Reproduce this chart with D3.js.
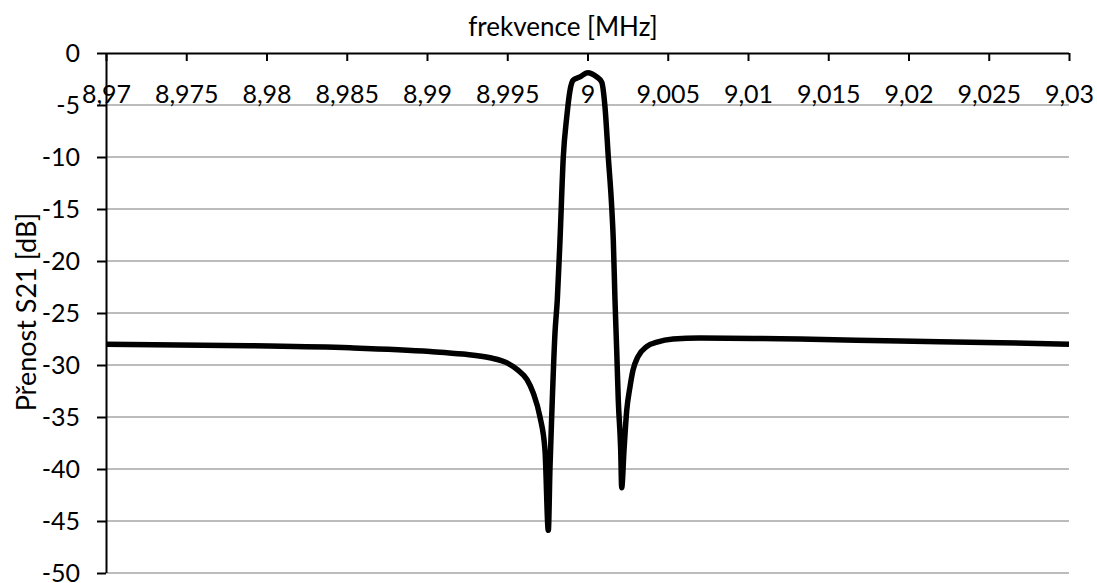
<!DOCTYPE html>
<html>
<head>
<meta charset="utf-8">
<script src="https://cdn.jsdelivr.net/npm/d3@7"></script>
<style>
    body { margin: 0; background: #fff; }
    text { font-family: Lato, "Open Sans", sans-serif; fill: #000; }
</style>
</head>
<body>
<svg id="chart" width="1097" height="583"></svg>
<script>

// frequency in MHz
const freq = [8.97, 8.978972, 8.985202, 8.990187, 8.992243, 8.993925, 8.994984, 8.99567,
    8.996231, 8.996623, 8.99704, 8.997352, 8.997558, 8.997664, 8.997769,
    8.997975, 8.998118, 8.998287, 8.998492, 8.998704, 8.99891, 8.999115, 8.999533,
    9.0, 9.000573, 9.000885, 9.00109, 9.001296, 9.001508, 9.001607, 9.001713,
    9.00182, 9.001919, 9.002069, 9.002131, 9.002274, 9.002442, 9.002648, 9.002835, 9.003146,
    9.003707, 9.00433, 9.005327, 9.007009, 9.01324, 9.01947, 9.025701, 9.03];

// transfer S21 in dB
const s21 = [-28.0, -28.15, -28.35, -28.7, -28.95, -29.3, -29.8, -30.5,
    -31.4, -32.7, -35, -38.2, -45.9, -39.8, -35,
    -26.9, -23.75, -18, -10, -6.2, -3.6, -2.6, -2.3,
    -1.9, -2.3, -2.8, -5.2, -10, -14.8, -18, -23.75,
    -28.6, -33.4, -38.2, -41.8, -38.2, -34.4, -32.1, -30.5, -29.2,
    -28.2, -27.8, -27.5, -27.4, -27.5, -27.7, -27.85, -28.0];

const xTicks = [8.97, 8.975, 8.98, 8.985, 8.99, 8.995, 9, 9.005, 9.01, 9.015, 9.02, 9.025, 9.03];
const yTicks = [0, -5, -10, -15, -20, -25, -30, -35, -40, -45, -50];

const svg = d3.select("#chart");
const plotLeft = 106, plotRight = 1069, plotTop = 53, plotBottom = 573;

const x = d3.scaleLinear().domain([8.97, 9.03]).range([plotLeft, plotRight]);
const y = d3.scaleLinear().domain([0, -50]).range([plotTop, plotBottom]);

// comma as decimal separator, no trailing zeros
const fmt = d => String(+d.toFixed(3)).replace(".", ",");

//gridlines
svg.append("g")
    .selectAll("line")
    .data(yTicks.filter(d => d !== 0))
    .join("line")
    .attr("x1", plotLeft)
    .attr("x2", plotRight)
    .attr("y1", d => y(d))
    .attr("y2", d => y(d))
    .style("stroke", "#a6a6a6")
    .style("stroke-width", 1.5);

// y axis
const yAxis = svg.append("g")
    .attr("transform", "translate(" + plotLeft + ",0)")
    .call(d3.axisLeft(y).tickValues(yTicks).tickSize(9).tickPadding(17).tickFormat(d => d));
yAxis.selectAll("text").style("font-size", "25px").attr("dy", "0.33em");

// x axis at the top, ticks pointing down, labels below
const xAxis = svg.append("g")
    .attr("transform", "translate(0," + plotTop + ")")
    .call(d3.axisBottom(x).tickValues(xTicks).tickSize(8).tickPadding(25).tickFormat(fmt));
xAxis.selectAll("text").style("font-size", "25px").attr("dy", "0.68em");

svg.selectAll(".domain, .tick line")
    .style("stroke", "#000")
    .style("stroke-width", 2);
xAxis.select(".domain").attr("d", "M" + plotLeft + ",0.5H" + plotRight);
yAxis.select(".domain").attr("d", "M0.5," + plotTop + "V" + plotBottom);

// curve
const line = d3.line()
    .x((d, i) => x(freq[i]))
    .y(d => y(d))
    .curve(d3.curveMonotoneX);

svg.append("path")
    .datum(s21)
    .attr("d", line)
    .style("fill", "none")
    .style("stroke", "#000")
    .style("stroke-width", 5.5)
    .style("stroke-linejoin", "round");

// axis titles
svg.append("text")
    .attr("x", 563)
    .attr("y", 36)
    .attr("text-anchor", "middle")
    .style("font-size", "26px")
    .text("frekvence [MHz]");

svg.append("text")
    .attr("transform", "translate(36," + 312 + ") rotate(-90)")
    .attr("text-anchor", "middle")
    .style("font-size", "27px")
    .text("Přenost S21 [dB]");

</script>
</body>
</html>
